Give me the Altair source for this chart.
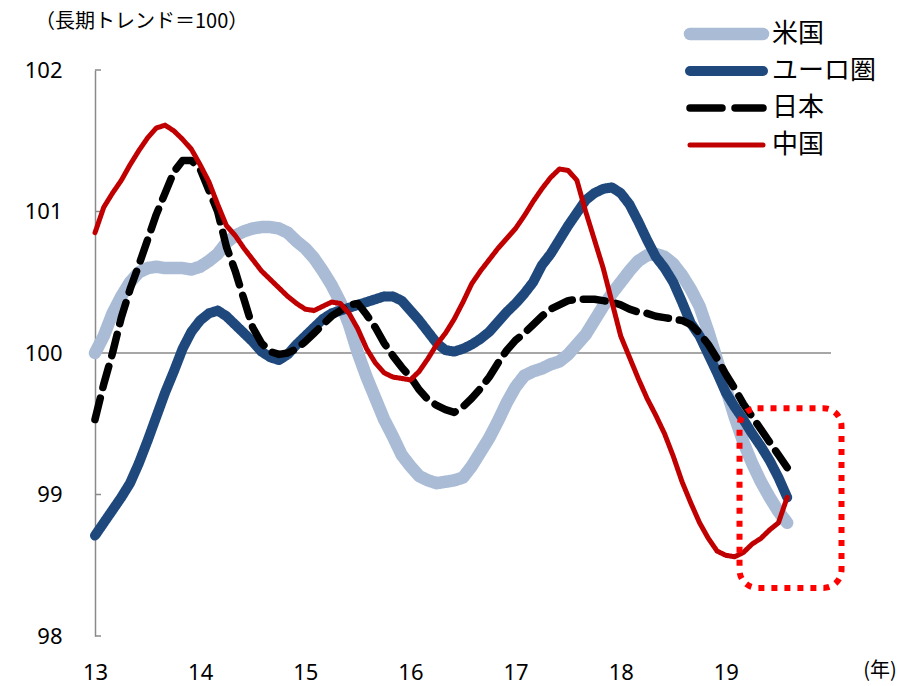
import altair as alt
import pandas as pd

# ---------------- data ----------------
series_names = ["米国", "ユーロ圏", "日本", "中国"]
series_colors = ["#a9bbd5", "#1f497d", "#000000", "#c00000"]
series_widths = [12.5, 5, 3, 3]
series_dashes = [[1, 0], [1, 0], [22, 11], [1, 0]]
legend_dashes = [[1, 0], [1, 0], [32, 13], [1, 0]]

start_year = 13  # monthly data, Jan 2013 ...

us = [100.00, 100.12, 100.28, 100.40, 100.50, 100.57, 100.60, 100.61, 100.60, 100.60, 100.60, 100.59,
      100.61, 100.65, 100.70, 100.78, 100.83, 100.86, 100.88, 100.89, 100.89, 100.88, 100.85, 100.79,
      100.74, 100.67, 100.58, 100.48, 100.36, 100.20, 100.00, 99.83, 99.68, 99.53, 99.41, 99.28,
      99.20, 99.13, 99.10, 99.08, 99.09, 99.10, 99.12, 99.20, 99.30, 99.40, 99.52, 99.65,
      99.76, 99.84, 99.87, 99.89, 99.92, 99.94, 99.99, 100.06, 100.13, 100.23, 100.33, 100.42,
      100.50, 100.58, 100.65, 100.69, 100.70, 100.68, 100.63, 100.55, 100.45, 100.33, 100.15, 99.95,
      99.75, 99.55, 99.37, 99.22, 99.09, 98.98, 98.88, 98.80]

euro = [98.71, 98.80, 98.89, 98.98, 99.08, 99.22, 99.38, 99.55, 99.72, 99.87, 100.03, 100.15,
        100.23, 100.28, 100.30, 100.26, 100.20, 100.14, 100.08, 100.01, 99.97, 99.95, 99.99, 100.06,
        100.12, 100.18, 100.24, 100.28, 100.30, 100.32, 100.34, 100.36, 100.38, 100.40, 100.40, 100.37,
        100.30, 100.23, 100.15, 100.07, 100.02, 100.01, 100.03, 100.06, 100.10, 100.15, 100.22, 100.29,
        100.35, 100.42, 100.50, 100.62, 100.70, 100.80, 100.90, 100.99, 101.08, 101.13, 101.16, 101.17,
        101.13, 101.05, 100.93, 100.80, 100.68, 100.60, 100.50, 100.36, 100.21, 100.12, 99.99, 99.86,
        99.72, 99.62, 99.53, 99.43, 99.34, 99.24, 99.12, 98.98]

japan = [99.53, 99.78, 100.00, 100.25, 100.45, 100.62, 100.80, 100.98, 101.13, 101.28, 101.36, 101.36,
         101.30, 101.15, 101.00, 100.75, 100.58, 100.38, 100.18, 100.07, 100.01, 99.99, 100.00, 100.03,
         100.08, 100.14, 100.20, 100.26, 100.30, 100.34, 100.35, 100.27, 100.18, 100.07, 99.98, 99.90,
         99.83, 99.74, 99.67, 99.63, 99.60, 99.58, 99.62, 99.68, 99.75, 99.83, 99.93, 100.02,
         100.09, 100.14, 100.20, 100.26, 100.31, 100.34, 100.37, 100.38, 100.38, 100.38, 100.37, 100.36,
         100.34, 100.31, 100.29, 100.28, 100.26, 100.25, 100.24, 100.23, 100.20, 100.14, 100.06, 99.96,
         99.85, 99.75, 99.64, 99.55, 99.46, 99.37, 99.28, 99.19]

china = [100.85, 101.03, 101.13, 101.22, 101.33, 101.43, 101.52, 101.59, 101.61, 101.57, 101.51, 101.44,
         101.33, 101.21, 101.05, 100.90, 100.83, 100.74, 100.66, 100.58, 100.52, 100.46, 100.40, 100.35,
         100.31, 100.30, 100.33, 100.36, 100.35, 100.28, 100.17, 100.03, 99.93, 99.86, 99.83, 99.82,
         99.81, 99.87, 99.96, 100.06, 100.14, 100.24, 100.36, 100.49, 100.58, 100.66, 100.74, 100.81,
         100.88, 100.97, 101.07, 101.16, 101.24, 101.30, 101.29, 101.22, 101.00, 100.80, 100.60, 100.36,
         100.12, 99.97, 99.82, 99.68, 99.56, 99.43, 99.27, 99.09, 98.94, 98.80, 98.69, 98.60,
         98.57, 98.56, 98.59, 98.65, 98.69, 98.75, 98.80, 98.98]

x_ticks = [13, 14, 15, 16, 17, 18, 19]
x_domain = [13, 20]
y_ticks = [98, 99, 100, 101, 102]
y_domain = [98, 102]
baseline_value = 100
highlight_x = [19.13, 20.10]
highlight_y = [98.34, 99.61]

title_text = "（長期トレンド＝100）"
unit_text = "(年)"

# ---------------- tables ----------------
rows = []
for name, vals in zip(series_names, [us, euro, japan, china]):
    for i, v in enumerate(vals):
        rows.append({"series": name, "year": start_year + i / 12, "value": v})
df = pd.DataFrame(rows)

jp_font = "Noto Sans CJK JP"
num_font = "Noto Sans"

x_scale = alt.Scale(domain=x_domain, nice=False, zero=False)
y_scale = alt.Scale(domain=y_domain, nice=False, zero=False)
color_scale = alt.Scale(domain=series_names, range=series_colors)
width_scale = alt.Scale(domain=series_names, range=series_widths)
dash_scale = alt.Scale(domain=series_names, range=series_dashes)

x_axis = alt.Axis(values=x_ticks, format="d", domain=False, ticks=False, tickSize=0, grid=False,
                  labelFontSize=22, labelFont=num_font, labelColor="black", labelPadding=26,
                  labelFlush=False, labelOverlap=False, title=None)
y_axis = alt.Axis(values=y_ticks, format="d", domain=True, domainColor="#8a8a8a", domainWidth=1.5,
                  ticks=False, tickSize=0, grid=False, labelFontSize=22, labelFont=num_font,
                  labelColor="black", labelPadding=33, labelFlush=False, labelOverlap=False, title=None)

X = alt.X("year:Q", scale=x_scale, axis=x_axis)
Y = alt.Y("value:Q", scale=y_scale, axis=y_axis)

baseline_df = pd.DataFrame({"year": [x_domain[0]], "year2": [x_domain[1]], "value": [baseline_value]})
baseline = alt.Chart(baseline_df).mark_rule(color="#8a8a8a", strokeWidth=1.5).encode(
    x=X, x2="year2:Q", y=Y)

tick_df = pd.DataFrame({"value": y_ticks})
yticks = alt.Chart(tick_df).mark_rule(color="#8a8a8a", strokeWidth=1.5).encode(
    y=Y, x=alt.value(0), x2=alt.value(6))

lines = []
for name in series_names:
    lines.append(
        alt.Chart(df).transform_filter(alt.datum.series == name)
        .mark_line(strokeCap="round", strokeJoin="round")
        .encode(
            x=X, y=Y,
            color=alt.Color("series:N", scale=color_scale, legend=None),
            strokeWidth=alt.StrokeWidth("series:N", scale=width_scale, legend=None),
            strokeDash=alt.StrokeDash("series:N", scale=dash_scale, legend=None),
        )
    )

hl_df = pd.DataFrame({"year": [highlight_x[0]], "year2": [highlight_x[1]],
                      "value": [highlight_y[1]], "value2": [highlight_y[0]]})
highlight = alt.Chart(hl_df).mark_rect(
    fill="white", fillOpacity=0, stroke="#ff0000", strokeWidth=6, strokeDash=[6, 7], cornerRadius=18
).encode(x=X, x2="year2:Q", y=Y, y2="value2:Q")

title = alt.Chart(pd.DataFrame({"t": [title_text]})).mark_text(
    align="left", baseline="middle", fontSize=20, font=jp_font, color="black"
).encode(text="t:N", x=alt.value(-60), y=alt.value(-48))

unit = alt.Chart(pd.DataFrame({"t": [unit_text]})).mark_text(
    align="center", baseline="middle", fontSize=20, font=jp_font, color="black"
).encode(text="t:N", x=alt.value(785), y=alt.value(601))

main = alt.layer(baseline, yticks, *lines, highlight, title, unit)

# ---------------- legend ----------------
legend_df = pd.DataFrame({"series": series_names})
LY = alt.Y("series:N", scale=alt.Scale(type="point", domain=series_names, range=[-36, 75], padding=0),
           axis=None)
leg_rule = alt.Chart(legend_df).mark_rule(strokeCap="round").encode(
    y=LY, x=alt.value(595), x2=alt.value(668),
    color=alt.Color("series:N", scale=color_scale, legend=None),
    strokeWidth=alt.StrokeWidth("series:N", scale=width_scale, legend=None),
    strokeDash=alt.StrokeDash("series:N", scale=alt.Scale(domain=series_names, range=legend_dashes),
                              legend=None),
)
leg_text = alt.Chart(legend_df).mark_text(
    align="left", baseline="middle", fontSize=26, font=jp_font, color="black"
).encode(y=LY, x=alt.value(677), text="series:N")
legend = alt.layer(leg_rule, leg_text)

chart = alt.layer(main, legend).resolve_scale(y="independent", strokeDash="independent").properties(
    width=736, height=566,
    padding={"left": 95, "top": 70, "right": 81, "bottom": 50},
    autosize=alt.AutoSizeParams(type="none"),
    background="white",
).configure_view(stroke=None)

chart.save("out.html", embed_options={"renderer": "svg", "actions": False})
